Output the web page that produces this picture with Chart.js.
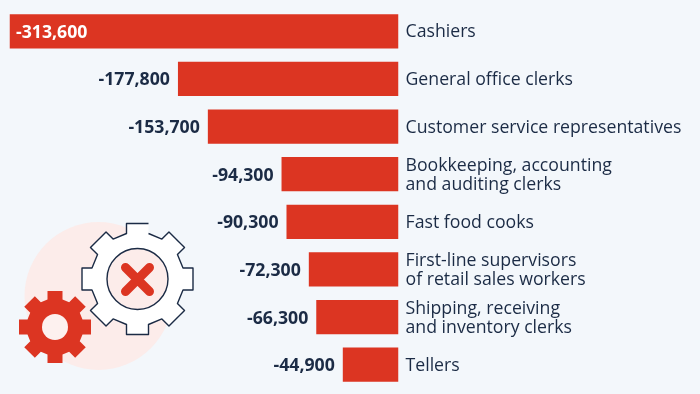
<!DOCTYPE html>
<html><head><meta charset="utf-8">
<style>html,body{margin:0;padding:0;background:#f3f7fb}canvas{display:block}</style>
<script src="https://cdn.jsdelivr.net/npm/chart.js@4"></script>
</head><body><canvas id="c" width="700" height="394"></canvas>
<script>
const categories = [
  "Cashiers",
  "General office clerks",
  "Customer service representatives",
  ["Bookkeeping, accounting", "and auditing clerks"],
  "Fast food cooks",
  ["First-line supervisors", "of retail sales workers"],
  ["Shipping, receiving", "and inventory clerks"],
  "Tellers"
];
const jobChange = [-313600, -177800, -153700, -94300, -90300, -72300, -66300, -44900];
const valueLabels = ["-313,600", "-177,800", "-153,700", "-94,300", "-90,300", "-72,300", "-66,300", "-44,900"];

const RED = "#dc3522", NAVY = "#1b2b45", BG = "#f3f7fb", PINK = "#fcecea";
const FONT = "'Open Sans', sans-serif";

// The path starts just after the right flank of the top tooth, so an unclosed stroke leaves that flank open.
function gearPath(ctx, cx, cy, R, r, w, open) {
  ctx.beginPath();
  const all = [];
  for (let i = 0; i < 8; i++) {
    const a = i * Math.PI / 4, c = Math.cos(a), s = Math.sin(a);
    const p = (x, y) => [cx + x * c - y * s, cy + x * s + y * c];
    all.push(p(-w, -r), p(-w, -R), p(w, -R), p(w, -r));
  }
  const order = all.slice(3).concat(all.slice(0, 3));
  order.forEach((q, j) => j === 0 ? ctx.moveTo(q[0], q[1]) : ctx.lineTo(q[0], q[1]));
  if (!open) ctx.closePath();
}

const background = {
  id: "background",
  beforeDraw(chart) {
    const ctx = chart.ctx;
    ctx.save();
    ctx.fillStyle = BG;
    ctx.fillRect(0, 0, chart.width, chart.height);
    ctx.fillStyle = PINK;
    ctx.beginPath(); ctx.arc(98.5, 296, 74, 0, Math.PI * 2); ctx.fill();
    // outlined gear
    gearPath(ctx, 137.5, 279, 55.5, 45.5, 11, true);
    ctx.fillStyle = "#ffffff"; ctx.fill();
    ctx.strokeStyle = NAVY; ctx.lineWidth = 1.4; ctx.lineJoin = "round"; ctx.stroke();
    ctx.beginPath(); ctx.arc(137.5, 279, 30.5, 0, Math.PI * 2);
    ctx.fillStyle = PINK; ctx.fill(); ctx.stroke();
    // cross
    ctx.strokeStyle = RED; ctx.lineWidth = 9; ctx.lineCap = "round";
    ctx.beginPath();
    ctx.moveTo(125.5, 267.5); ctx.lineTo(149.5, 291.5);
    ctx.moveTo(149.5, 267.5); ctx.lineTo(125.5, 291.5);
    ctx.stroke();
    // solid gear
    gearPath(ctx, 55, 327, 36, 27.5, 7.5, false);
    ctx.fillStyle = RED; ctx.fill();
    ctx.beginPath(); ctx.arc(55, 327, 13, 0, Math.PI * 2);
    ctx.fillStyle = "#fdf1ef"; ctx.fill();
    ctx.restore();
  }
};

const barValues = {
  id: "barValues",
  afterDatasetsDraw(chart) {
    const ctx = chart.ctx, meta = chart.getDatasetMeta(0);
    ctx.save();
    ctx.font = "700 17.7px " + FONT;
    ctx.textBaseline = "middle";
    meta.data.forEach((bar, i) => {
      const inside = i === 0;
      ctx.fillStyle = inside ? "#ffffff" : NAVY;
      ctx.textAlign = inside ? "left" : "right";
      ctx.fillText(valueLabels[i], bar.x + (inside ? 6.5 : -8), bar.y + 1.5);
    });
    ctx.restore();
  }
};

new Chart(document.getElementById("c"), {
  type: "bar",
  data: {
    labels: categories,
    datasets: [{ data: jobChange, backgroundColor: RED, borderWidth: 0, categoryPercentage: 0.72, barPercentage: 1 }]
  },
  options: {
    indexAxis: "y",
    responsive: false,
    animation: false,
    layout: { padding: { left: 9.5, top: 7.5, bottom: 5.5, right: 0 } },
    plugins: { legend: { display: false }, tooltip: { enabled: false } },
    scales: {
      x: { display: false, min: -313600, max: 0 },
      y: {
        position: "right",
        grid: { display: false, drawTicks: false },
        border: { display: false },
        afterFit(s) { s.width = 301.5; s.paddingTop = 0; s.paddingBottom = 0; },
        ticks: {
          color: NAVY, padding: 7, align: "center", crossAlign: "near", autoSkip: false, labelOffset: 1,
          font: { family: FONT, size: 17.7, lineHeight: 1.08 }
        }
      }
    }
  },
  plugins: [background, barValues]
});
</script></body></html>
